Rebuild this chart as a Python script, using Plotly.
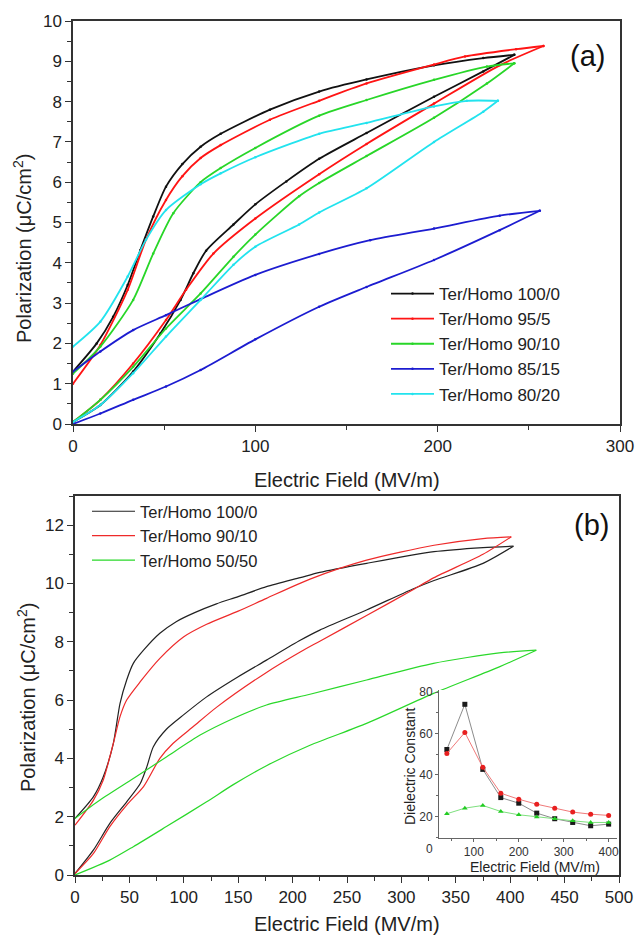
import plotly.graph_objects as go

W, H = 637, 937

# ---------------- Panel (a) data: E (MV/m) and P (uC/cm2) ----------------
A_NAMES = ["Ter/Homo 100/0", "Ter/Homo 95/5", "Ter/Homo 90/10", "Ter/Homo 85/15", "Ter/Homo 80/20"]
A_COLORS = ["#111111", "#ff1414", "#28d628", "#1c1cd0", "#22e3ee"]

a1_E_chg = [0, 15, 33, 48, 59, 66, 73, 88, 100, 117, 135, 161, 198, 225, 242]
a1_P_chg = [0.05, 0.47, 1.3, 2.25, 3.08, 3.74, 4.3, 4.95, 5.45, 6.02, 6.58, 7.22, 8.12, 8.75, 9.16]
a1_E_dis = [242, 225, 198, 161, 135, 108, 81, 70, 60, 51, 44, 37, 30, 22, 13, 0]
a1_P_dis = [9.16, 9.08, 8.9, 8.55, 8.25, 7.8, 7.2, 6.88, 6.45, 5.89, 5.15, 4.32, 3.45, 2.66, 2.0, 1.3]

a2_E_chg = [0, 15, 33, 51, 62, 77, 100, 135, 161, 198, 234, 258]
a2_P_chg = [0.05, 0.6, 1.5, 2.58, 3.33, 4.23, 5.1, 6.2, 6.95, 7.95, 8.9, 9.38]
a2_E_dis = [258, 243, 215, 198, 161, 135, 108, 81, 70, 60, 51, 40, 30, 15, 0]
a2_P_dis = [9.38, 9.3, 9.12, 8.92, 8.45, 8.02, 7.55, 6.92, 6.6, 6.15, 5.56, 4.57, 3.33, 1.96, 1.0]

a3_E_chg = [0, 15, 33, 51, 70, 88, 100, 124, 135, 161, 198, 227, 242]
a3_P_chg = [0.05, 0.6, 1.42, 2.37, 3.24, 4.15, 4.7, 5.65, 5.98, 6.65, 7.6, 8.45, 8.95]
a3_E_dis = [242, 227, 198, 161, 135, 100, 81, 70, 55, 44, 33, 15, 0]
a3_P_dis = [8.95, 8.87, 8.54, 8.04, 7.65, 6.85, 6.35, 6.0, 5.23, 4.23, 3.08, 1.92, 1.25]

a4_E_chg = [0, 15, 33, 51, 70, 100, 135, 161, 198, 234, 256]
a4_P_chg = [0.0, 0.26, 0.6, 0.93, 1.34, 2.1, 2.91, 3.4, 4.07, 4.81, 5.29]
a4_E_dis = [256, 234, 198, 163, 135, 100, 70, 51, 33, 15, 0]
a4_P_dis = [5.29, 5.17, 4.85, 4.56, 4.22, 3.7, 3.1, 2.7, 2.33, 1.8, 1.3]

a5_E_chg = [0, 15, 33, 51, 70, 88, 100, 124, 135, 161, 198, 225, 233]
a5_P_chg = [0.05, 0.47, 1.26, 2.17, 3.08, 3.95, 4.4, 4.95, 5.25, 5.85, 7.0, 7.75, 8.02]
a5_E_dis = [233, 216, 198, 161, 135, 100, 81, 70, 51, 40, 30, 15, 0]
a5_P_dis = [8.02, 8.02, 7.88, 7.47, 7.2, 6.62, 6.22, 5.95, 5.31, 4.57, 3.66, 2.54, 1.92]

A_SERIES = [
    (a1_E_chg, a1_P_chg, a1_E_dis, a1_P_dis),
    (a2_E_chg, a2_P_chg, a2_E_dis, a2_P_dis),
    (a3_E_chg, a3_P_chg, a3_E_dis, a3_P_dis),
    (a4_E_chg, a4_P_chg, a4_E_dis, a4_P_dis),
    (a5_E_chg, a5_P_chg, a5_E_dis, a5_P_dis),
]

# ---------------- Panel (b) data ----------------
B_NAMES = ["Ter/Homo 100/0", "Ter/Homo 90/10", "Ter/Homo 50/50"]
B_COLORS = ["#222222", "#ee2a2a", "#2ad82a"]

b1_E_chg = [0, 17, 32, 47.5, 60, 66, 72, 84, 100, 121, 150, 176, 207, 225, 268, 310, 330, 375, 403]
b1_P_chg = [0.05, 0.86, 1.77, 2.51, 3.14, 3.71, 4.4, 5.0, 5.5, 6.11, 6.8, 7.37, 8.05, 8.4, 9.09, 9.8, 10.1, 10.69, 11.28]
b1_E_dis = [403, 375, 330, 268, 225, 207, 176, 150, 130, 110, 93, 78, 63, 53.6, 47.5, 41.4, 35.2, 26, 17, 0]
b1_P_dis = [11.28, 11.23, 11.09, 10.69, 10.38, 10.2, 9.89, 9.55, 9.3, 9.0, 8.69, 8.29, 7.71, 7.26, 6.69, 5.89, 4.51, 3.37, 2.69, 1.94]

b2_E_chg = [0, 17, 32, 47.5, 63, 78, 90, 109, 130, 176, 207, 225, 268, 309, 330, 375, 401]
b2_P_chg = [0.05, 0.74, 1.66, 2.4, 3.03, 4.0, 4.51, 5.1, 5.75, 6.95, 7.65, 8.02, 8.9, 9.75, 10.2, 11.0, 11.6]
b2_E_dis = [401, 375, 330, 268, 216, 176, 150, 121, 100, 78, 60, 47.5, 41.4, 35.2, 26, 17, 0]
b2_P_dis = [11.6, 11.54, 11.31, 10.8, 10.15, 9.49, 9.05, 8.6, 8.17, 7.43, 6.63, 6.0, 5.43, 4.51, 3.26, 2.57, 1.71]

b3_E_chg = [0, 32, 53.6, 84, 121, 145.5, 176, 216, 268, 329.5, 390, 424]
b3_P_chg = [0.0, 0.51, 0.97, 1.66, 2.51, 3.1, 3.75, 4.45, 5.2, 6.23, 7.14, 7.71]
b3_E_dis = [424, 390, 329.5, 268, 216, 176, 145.5, 115, 84, 53.6, 23, 0]
b3_P_dis = [7.71, 7.62, 7.26, 6.69, 6.2, 5.83, 5.37, 4.8, 4.05, 3.31, 2.57, 1.94]

B_SERIES = [
    (b1_E_chg, b1_P_chg, b1_E_dis, b1_P_dis),
    (b2_E_chg, b2_P_chg, b2_E_dis, b2_P_dis),
    (b3_E_chg, b3_P_chg, b3_E_dis, b3_P_dis),
]

# ---------------- Inset data ----------------
inset_E = [40, 80, 120, 160, 200, 240, 280, 320, 360, 400]
inset_k_100_0 = [52.3, 74.1, 42.7, 29.1, 26.4, 21.6, 18.9, 17.1, 15.5, 16.3]
inset_k_90_10 = [50.4, 60.5, 43.7, 31.2, 28.3, 25.9, 24.0, 22.1, 21.1, 20.5]
inset_k_50_50 = [21.3, 24.0, 25.3, 22.4, 20.8, 19.7, 18.9, 17.9, 17.1, 17.1]
INSET_LINE_COLORS = ["#8c8c8c", "#f07a7a", "#7ee07e"]
INSET_MARK_COLORS = ["#1a1a1a", "#e82020", "#22cc22"]
INSET_SYMBOLS = ["square", "circle", "triangle-up"]

FONT = "Liberation Sans, Arial, sans-serif"

fig = go.Figure()

for i, (ec, pc, ed, pd) in enumerate(A_SERIES):
    for k, (ex, py) in enumerate([(ec, pc), (ed, pd)]):
        fig.add_trace(go.Scatter(
            x=ex, y=py, mode="lines+markers", name=A_NAMES[i],
            legendgroup="a%d" % i, showlegend=(k == 0), legend="legend",
            line=dict(color=A_COLORS[i], width=1.8, shape="spline", smoothing=0.7),
            marker=dict(size=2.5, color=A_COLORS[i]),
            xaxis="x", yaxis="y"))

for i, (ec, pc, ed, pd) in enumerate(B_SERIES):
    for k, (ex, py) in enumerate([(ec, pc), (ed, pd)]):
        fig.add_trace(go.Scatter(
            x=ex, y=py, mode="lines", name=B_NAMES[i],
            legendgroup="b%d" % i, showlegend=(k == 0), legend="legend2",
            line=dict(color=B_COLORS[i], width=1.2, shape="spline", smoothing=0.7),
            xaxis="x2", yaxis="y2"))

for i, ys in enumerate([inset_k_100_0, inset_k_90_10, inset_k_50_50]):
    fig.add_trace(go.Scatter(
        x=inset_E, y=ys, mode="lines+markers", showlegend=False,
        line=dict(color=INSET_LINE_COLORS[i], width=1),
        marker=dict(symbol=INSET_SYMBOLS[i], size=5, color=INSET_MARK_COLORS[i]),
        xaxis="x3", yaxis="y3"))


def px_x(p):
    return p / W


def px_y(p):
    return 1 - p / H


axcommon = dict(showgrid=False, zeroline=False, showline=True, linecolor="#333333",
                linewidth=1.5, mirror=True, ticks="outside", ticklen=6, tickwidth=1.3,
                tickcolor="#333333", automargin=False,
                tickfont=dict(size=17, color="#222222", family=FONT))

inset_ax = dict(showgrid=False, zeroline=False, showline=True, linecolor="#666666", linewidth=1,
                ticks="outside", ticklen=3, tickcolor="#666666", automargin=False,
                tickfont=dict(size=12, family=FONT, color="#333333"))


def ann(text, x, y, size, angle=0, color="#222222"):
    return dict(text=text, x=px_x(x), y=px_y(y), xref="paper", yref="paper",
                xanchor="center", yanchor="middle", showarrow=False, textangle=angle,
                font=dict(size=size, family=FONT, color=color))


fig.update_layout(
    width=W, height=H, margin=dict(l=0, r=0, t=0, b=0, autoexpand=False),
    paper_bgcolor="white", plot_bgcolor="white",
    font=dict(family=FONT, color="#222222"),
    xaxis=dict(axcommon, domain=[px_x(73), px_x(620)], range=[0, 300], dtick=100,
               minor=dict(dtick=50, ticks="outside", ticklen=4, tickcolor="#333333"),
               anchor="y"),
    yaxis=dict(axcommon, domain=[px_y(424), px_y(21)], range=[0, 10], dtick=1,
               minor=dict(dtick=0.5, ticks="outside", ticklen=4, tickcolor="#333333"),
               anchor="x"),
    xaxis2=dict(axcommon, domain=[px_x(75), px_x(619)], range=[0, 500], dtick=50,
                minor=dict(dtick=25, ticks="outside", ticklen=4, tickcolor="#333333"),
                anchor="y2"),
    yaxis2=dict(axcommon, domain=[px_y(875), px_y(496)], range=[0, 13], dtick=2,
                minor=dict(dtick=1, ticks="outside", ticklen=4, tickcolor="#333333"),
                anchor="x2"),
    xaxis3=dict(inset_ax, domain=[px_x(439), px_x(617)], range=[22.5, 418.6],
                tickvals=[100, 200, 300, 400],
                minor=dict(dtick=50, ticks="outside", ticklen=2, tickcolor="#666666"),
                anchor="y3"),
    yaxis3=dict(inset_ax, domain=[px_y(838), px_y(690)], range=[9.6, 81], tickvals=[20, 40, 60, 80],
                minor=dict(dtick=10, ticks="outside", ticklen=2, tickcolor="#666666"),
                anchor="x3"),
    legend=dict(x=px_x(386), y=px_y(276), xanchor="left", yanchor="top",
                bgcolor="rgba(0,0,0,0)", font=dict(size=17, family=FONT, color="#222222"),
                itemwidth=43, tracegroupgap=0),
    legend2=dict(x=px_x(87), y=px_y(494), xanchor="left", yanchor="top",
                 bgcolor="rgba(0,0,0,0)", font=dict(size=16.5, family=FONT, color="#222222"),
                 itemwidth=43, tracegroupgap=0),
    annotations=[
        ann("(a)", 587, 56, 29, color="#111111"),
        ann("(b)", 591, 525, 29, color="#111111"),
        ann("Electric Field (MV/m)", 347, 480, 20),
        ann("Electric Field (MV/m)", 347, 924, 20),
        ann("Polarization (μC/cm<sup>2</sup>)", 22, 249, 20, angle=-90),
        ann("Polarization (μC/cm<sup>2</sup>)", 26, 698, 20, angle=-90),
        ann("0", 429, 849, 12, color="#333333"),
        ann("Electric Field (MV/m)", 535, 867, 14),
        ann("Dielectric Constant", 410, 766, 14, angle=-90),
    ],
)

fig.write_html("out.html", config={"displayModeBar": False},
               post_script="document.body.style.margin='0';document.body.style.padding='0';"
                           "document.body.style.overflow='hidden';")
